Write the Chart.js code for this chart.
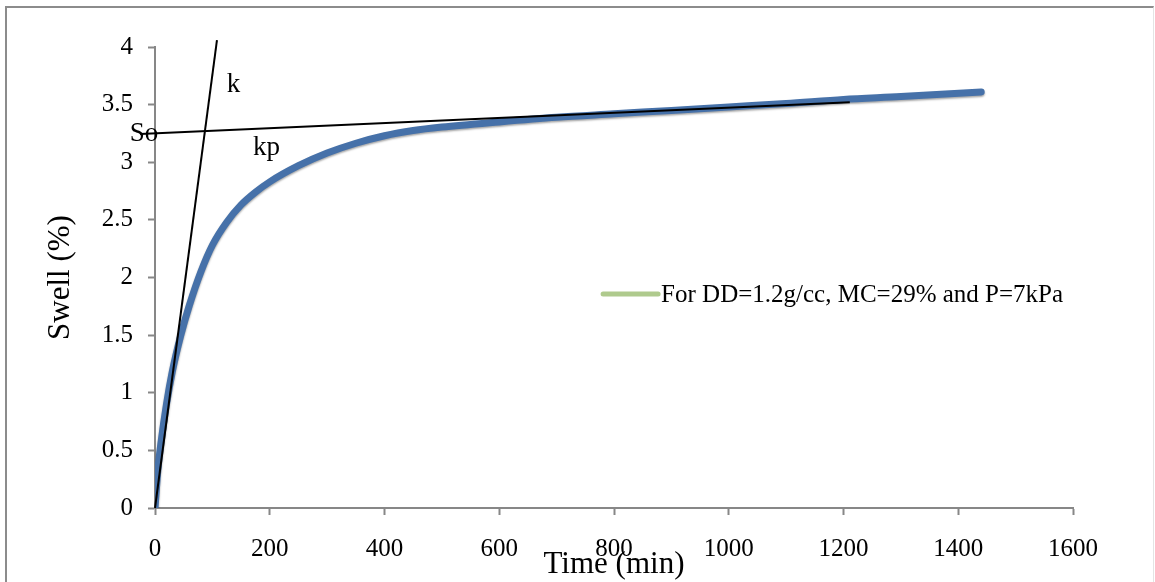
<!DOCTYPE html>
<html>
<head>
<meta charset="UTF-8">
<style>
    body { margin: 0; background: #fff; }
    #frame {
        position: absolute; left: 5px; top: 6px; width: 1146px; height: 620px;
        border-top: 2px solid #8c8c8c; border-left: 2px solid #8c8c8c;
        border-right: 1px solid #e4e4e4;
    }
    #myChart { position: absolute; left: 0; top: 0; }
</style>
</head>
<body>
<div id="frame"></div>
<canvas id="myChart" width="1155" height="582"></canvas>

<script src="https://cdn.jsdelivr.net/npm/chart.js"></script>

<script>
    // swell test, DD=1.2 g/cc, MC=29%, P=7 kPa
    const timeMin = [0, 5, 10, 20, 30, 45, 60, 80, 100, 125, 150, 175, 200, 250, 300, 350, 400, 450, 500, 600, 700, 800, 900, 1000, 1100, 1200, 1300, 1440];
    const swellPct = [0, 0.33, 0.55, 0.9, 1.18, 1.5, 1.76, 2.05, 2.28, 2.48, 2.63, 2.74, 2.83, 2.97, 3.08, 3.165, 3.23, 3.275, 3.305, 3.35, 3.39, 3.42, 3.45, 3.48, 3.51, 3.545, 3.57, 3.61];

    // initial tangent (k) and secondary tangent (kp)
    const kTime = [0, 108];
    const kSwell = [0, 4.06];
    const kpTime = [-26, 1211];
    const kpSwell = [3.245, 3.52];

    const xTicks = [0, 200, 400, 600, 800, 1000, 1200, 1400, 1600];
    const yTicks = [0, 0.5, 1, 1.5, 2, 2.5, 3, 3.5, 4];

    const seriesLabel = 'For DD=1.2g/cc, MC=29% and P=7kPa';
    const serif = "'Liberation Serif', 'Times New Roman', serif";

    function pts(xs, ys) {
        return xs.map((x, i) => ({ x: x, y: ys[i] }));
    }

    // text marks placed at (time, swell)
    const notes = [
        { text: 'k', x: 125, y: 3.61 },
        { text: 'So', x: -44, y: 3.185 },
        { text: 'kp', x: 171, y: 3.063 }
    ];

    const extras = {
        id: 'extras',
        beforeDatasetDraw(chart, args) {
            if (args.meta.label === seriesLabel) {
                const ctx = chart.ctx;
                ctx.save();
                ctx.shadowColor = 'rgba(0,0,0,0.35)';
                ctx.shadowBlur = 2;
                ctx.shadowOffsetY = 1.5;
            }
        },
        afterDatasetDraw(chart, args) {
            if (args.meta.label === seriesLabel) chart.ctx.restore();
        },
        afterDraw(chart) {
            const ctx = chart.ctx;
            const xs = chart.scales.x, ys = chart.scales.y;
            const area = chart.chartArea;
            ctx.save();
            ctx.fillStyle = '#000';

            ctx.font = '27px ' + serif;
            ctx.textAlign = 'left';
            ctx.textBaseline = 'alphabetic';
            notes.forEach(n => {
                ctx.fillText(n.text, xs.getPixelForValue(n.x), ys.getPixelForValue(n.y));
            });

            // axis titles
            ctx.font = '31px ' + serif;
            ctx.textAlign = 'center';
            ctx.fillText('Time (min)', (area.left + area.right) / 2, area.bottom + 65);
            ctx.save();
            ctx.translate(area.left - 94, (area.top + area.bottom) / 2);
            ctx.rotate(-Math.PI / 2);
            ctx.textBaseline = 'middle';
            ctx.fillText('Swell (%)', 0, 0);
            ctx.restore();

            // legend
            const lx = xs.getPixelForValue(781), ly = ys.getPixelForValue(1.857);
            ctx.strokeStyle = '#AFCA8D';
            ctx.lineWidth = 5;
            ctx.lineCap = 'round';
            ctx.beginPath();
            ctx.moveTo(lx, ly);
            ctx.lineTo(lx + 55, ly);
            ctx.stroke();
            ctx.font = '25px ' + serif;
            ctx.textAlign = 'left';
            ctx.textBaseline = 'middle';
            ctx.fillText(seriesLabel, lx + 58, ly + 1);
            ctx.restore();
        }
    };

    new Chart(document.getElementById('myChart'), {
        type: 'scatter',
        data: {
            datasets: [
                {
                    label: 'k',
                    data: pts(kTime, kSwell),
                    showLine: true,
                    borderColor: '#000',
                    borderWidth: 2,
                    pointRadius: 0,
                    clip: false
                },
                {
                    label: 'kp',
                    data: pts(kpTime, kpSwell),
                    showLine: true,
                    borderColor: '#000',
                    borderWidth: 2,
                    pointRadius: 0,
                    clip: false
                },
                {
                    label: seriesLabel,
                    data: pts(timeMin, swellPct),
                    showLine: true,
                    borderColor: '#4671A9',
                    borderWidth: 7,
                    borderCapStyle: 'round',
                    borderJoinStyle: 'round',
                    cubicInterpolationMode: 'monotone',
                    pointRadius: 0
                }
            ]
        },
        options: {
            responsive: false,
            animation: false,
            layout: { padding: { left: 0, top: 47, right: 82, bottom: 0 } },
            plugins: {
                legend: { display: false },
                tooltip: { enabled: false }
            },
            scales: {
                x: {
                    type: 'linear',
                    min: 0,
                    max: 1600,
                    afterFit: s => { s.height = 74; },
                    afterBuildTicks: s => { s.ticks = xTicks.map(v => ({ value: v })); },
                    border: { color: '#878787', width: 2 },
                    grid: { drawOnChartArea: false, tickLength: 7, tickColor: '#878787', tickWidth: 2 },
                    ticks: { color: '#000', padding: 19, maxRotation: 0, font: { family: serif, size: 25 },
                             callback: v => String(v) }
                },
                y: {
                    min: 0,
                    max: 4,
                    afterFit: s => { s.width = 155; },
                    afterBuildTicks: s => { s.ticks = yTicks.map(v => ({ value: v })); },
                    border: { color: '#878787', width: 2 },
                    grid: { drawOnChartArea: false, tickLength: 7, tickColor: '#878787', tickWidth: 2 },
                    ticks: { color: '#000', padding: 15, font: { family: serif, size: 25 },
                             callback: v => String(v) }
                }
            }
        },
        plugins: [extras]
    });
</script>
</body>
</html>
